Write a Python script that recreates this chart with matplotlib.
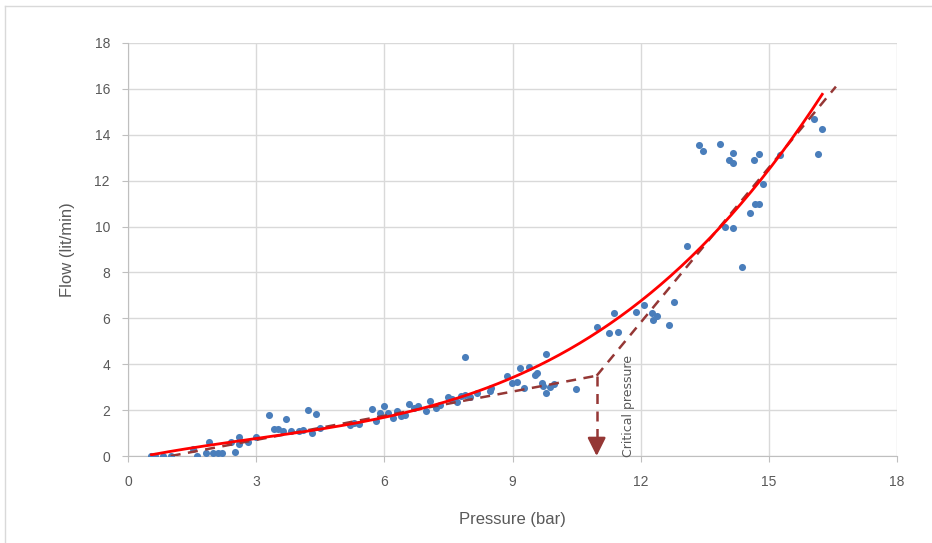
import numpy as np
import matplotlib
matplotlib.use('Agg')
import matplotlib.pyplot as plt
from matplotlib.lines import Line2D

# ── DATA ───────────────────────────────────────────────────────
pressure = [0.55, 0.63, 0.81, 1.01, 1.51, 1.61, 1.83, 1.90, 2.00, 2.11, 2.21, 2.41,
            2.51, 2.60, 2.60, 2.80, 3.00, 3.31, 3.42, 3.51, 3.62, 3.70, 3.81, 4.00,
            4.10, 4.21, 4.30, 4.40, 4.49, 5.20, 5.29, 5.40, 5.70, 5.81, 5.90, 5.99,
            6.09, 6.20, 6.29, 6.38, 6.49, 6.58, 6.69, 6.79, 6.98, 7.08, 7.21, 7.30,
            7.49, 7.58, 7.69, 7.79, 7.89, 7.89, 8.01, 8.16, 8.47, 8.50, 8.88, 8.98,
            9.10, 9.18, 9.28, 9.38, 9.53, 9.58, 9.68, 9.71, 9.78, 9.78, 9.88, 9.97,
            10.48, 10.97, 11.27, 11.38, 11.48, 11.88, 12.08, 12.26, 12.28, 12.38,
            12.67, 12.78, 13.08, 13.37, 13.47, 13.86, 13.97, 14.06, 14.17, 14.17,
            14.17, 14.37, 14.56, 14.66, 14.68, 14.76, 14.76, 14.86, 15.26, 16.06,
            16.25, 16.16]
flow = [0.00, 0.00, 0.00, 0.00, 0.29, 0.00, 0.12, 0.62, 0.13, 0.13, 0.13, 0.62,
        0.16, 0.82, 0.51, 0.61, 0.82, 1.80, 1.19, 1.19, 1.10, 1.60, 1.10, 1.07,
        1.15, 2.01, 0.99, 1.84, 1.21, 1.35, 1.43, 1.38, 2.06, 1.51, 1.86, 2.18,
        1.89, 1.66, 1.97, 1.74, 1.80, 2.27, 2.09, 2.18, 1.97, 2.41, 2.11, 2.21,
        2.58, 2.47, 2.37, 2.62, 2.66, 4.33, 2.58, 2.73, 2.85, 2.98, 3.49, 3.17,
        3.24, 3.82, 2.95, 3.89, 3.53, 3.63, 3.20, 3.05, 2.76, 4.45, 3.02, 3.14,
        2.92, 5.61, 5.37, 6.22, 5.39, 6.26, 6.60, 6.22, 5.93, 6.10,
        5.70, 6.73, 9.15, 13.57, 13.28, 13.60, 9.97, 12.90, 13.20, 12.79,
        9.92, 8.23, 10.61, 12.90, 10.99, 10.99, 13.15, 11.86, 13.11, 14.70,
        14.24, 13.16]

# dashed construction lines (start, corner, end)
low_p, low_f = [1.0, 10.97], [0.0, 3.50]
high_p, high_f = [10.97, 16.57], [3.50, 16.10]
critical_p = 10.97

x_ticks = [0, 3, 6, 9, 12, 15, 18]
y_ticks = [0, 2, 4, 6, 8, 10, 12, 14, 16, 18]

plt.rcParams['font.family'] = ['Liberation Sans', 'DejaVu Sans']

fig = plt.figure(figsize=(9.32, 5.43), dpi=100)
fig.patch.set_facecolor('white')
ax = fig.add_axes([128 / 932, 1 - 456 / 543, (897 - 128) / 932, (456 - 43) / 543])

# outer chart border
fig.add_artist(Line2D([5 / 932, 1], [1 - 6 / 543] * 2, color='#d9d9d9', lw=1))
fig.add_artist(Line2D([5 / 932] * 2, [0, 1 - 6 / 543], color='#d9d9d9', lw=1))

ax.scatter(pressure, flow, s=26, color='#4a7ebb', zorder=3, linewidths=0)

# polynomial (order 3) trendline over the data range
pp = np.linspace(min(pressure), max(pressure), 200)
coef = np.polyfit(pressure, flow, 3)
ax.plot(pp, np.polyval(coef, pp), color='red', lw=2, zorder=5)

brown = '#953735'
dash = dict(color=brown, lw=1.8, dashes=(4, 3), zorder=4)
ax.plot(low_p, low_f, **dash)
ax.plot(high_p, high_f, **dash)
# vertical drop to the pressure axis, solid arrow head at the end
ax.plot([critical_p, critical_p], [low_f[1], 0.7], **dash)
ax.annotate('', xy=(critical_p, 0), xytext=(critical_p, 0.75),
            arrowprops=dict(arrowstyle='-|>,head_length=1.1,head_width=0.55',
                            color=brown, lw=1.8, shrinkA=0, shrinkB=0),
            zorder=4)
ax.text(11.72, -0.05, 'Critical pressure', rotation=90, fontsize=9,
        color='#595959', ha='center', va='bottom',
        family=['Liberation Sans Narrow', 'DejaVu Sans'])

ax.set_xlim(0, 18)
ax.set_ylim(0, 18)
ax.set_xticks(x_ticks)
ax.set_yticks(y_ticks)
ax.grid(True, color='#d9d9d9', lw=1)
ax.set_axisbelow(True)
for side in ['top', 'right']:
    ax.spines[side].set_visible(False)
for side in ['left', 'bottom']:
    ax.spines[side].set_color('#bfbfbf')
ax.tick_params(colors='#bfbfbf', labelcolor='#595959', labelsize=10, length=4)
ax.tick_params(axis='x', pad=10)
ax.tick_params(axis='y', pad=9)
ax.set_xlabel('Pressure (bar)', fontsize=12, color='#595959', labelpad=16)
ax.set_ylabel('Flow (lit/min)', fontsize=12, color='#595959', labelpad=14)

fig.savefig('out.png', dpi=100, facecolor='white')
